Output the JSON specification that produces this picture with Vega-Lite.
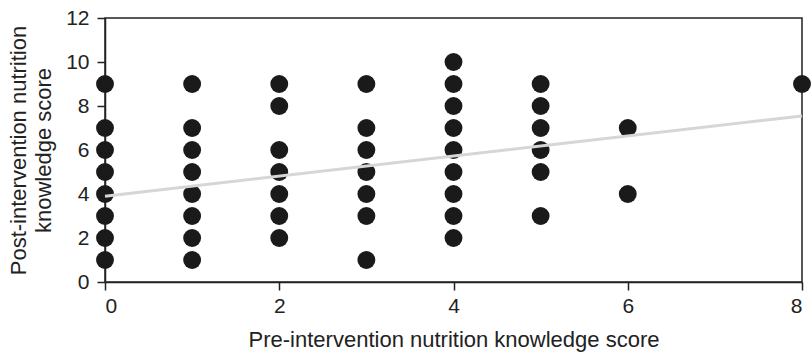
{
  "$schema": "https://vega.github.io/schema/vega-lite/v6.json",
  "autosize": "none",
  "width": 697,
  "height": 264,
  "padding": {"left": 105, "top": 18, "right": 9, "bottom": 72},
  "background": "white",
  "config": {
    "font": "Liberation Sans",
    "view": {"stroke": "#222", "strokeWidth": 1.5},
    "axis": {
      "grid": false,
      "domainColor": "#222",
      "domainWidth": 1.5,
      "tickColor": "#222",
      "tickWidth": 1.5,
      "tickSize": 8,
      "labelFont": "Liberation Sans",
      "labelFontSize": 21,
      "labelColor": "#222",
      "titleFont": "Liberation Sans",
      "titleFontWeight": "normal",
      "titleColor": "#222"
    }
  },
  "datasets": {
    "scores": [
      {"pre": 0, "post": 9}, {"pre": 0, "post": 7}, {"pre": 0, "post": 6}, {"pre": 0, "post": 5},
      {"pre": 0, "post": 4}, {"pre": 0, "post": 3}, {"pre": 0, "post": 2}, {"pre": 0, "post": 1},
      {"pre": 1, "post": 9}, {"pre": 1, "post": 7}, {"pre": 1, "post": 6}, {"pre": 1, "post": 5},
      {"pre": 1, "post": 4}, {"pre": 1, "post": 3}, {"pre": 1, "post": 2}, {"pre": 1, "post": 1},
      {"pre": 2, "post": 9}, {"pre": 2, "post": 8}, {"pre": 2, "post": 6}, {"pre": 2, "post": 5},
      {"pre": 2, "post": 4}, {"pre": 2, "post": 3}, {"pre": 2, "post": 2},
      {"pre": 3, "post": 9}, {"pre": 3, "post": 7}, {"pre": 3, "post": 6}, {"pre": 3, "post": 5},
      {"pre": 3, "post": 4}, {"pre": 3, "post": 3}, {"pre": 3, "post": 1},
      {"pre": 4, "post": 10}, {"pre": 4, "post": 9}, {"pre": 4, "post": 8}, {"pre": 4, "post": 7},
      {"pre": 4, "post": 6}, {"pre": 4, "post": 5}, {"pre": 4, "post": 4}, {"pre": 4, "post": 3},
      {"pre": 4, "post": 2},
      {"pre": 5, "post": 9}, {"pre": 5, "post": 8}, {"pre": 5, "post": 7}, {"pre": 5, "post": 6},
      {"pre": 5, "post": 5}, {"pre": 5, "post": 3},
      {"pre": 6, "post": 7}, {"pre": 6, "post": 4},
      {"pre": 8, "post": 9}
    ],
    "trend": [
      {"pre": 0, "post": 3.9},
      {"pre": 8, "post": 7.55}
    ]
  },
  "encoding": {
    "x": {
      "field": "pre",
      "type": "quantitative",
      "scale": {"domain": [0, 8], "nice": false, "zero": false},
      "axis": {"values": [0, 2, 4, 6, 8], "labelPadding": 5, "title": "Pre-intervention nutrition knowledge score", "titleFontSize": 22, "titlePadding": 13}
    },
    "y": {
      "field": "post",
      "type": "quantitative",
      "scale": {"domain": [0, 12], "nice": false},
      "axis": {"values": [0, 2, 4, 6, 8, 10, 12], "labelPadding": 8, "title": ["Post-intervention nutrition", "knowledge score"], "titleFontSize": 22, "titlePadding": 10, "titleLineHeight": 25}
    }
  },
  "layer": [
    {
      "data": {"name": "scores"},
      "mark": {"type": "circle", "size": 320, "color": "#1a1a1a", "opacity": 1, "clip": false}
    },
    {
      "data": {"name": "trend"},
      "mark": {"type": "line", "color": "#d6d6d6", "strokeWidth": 3},
      "encoding": {}
    }
  ]
}
